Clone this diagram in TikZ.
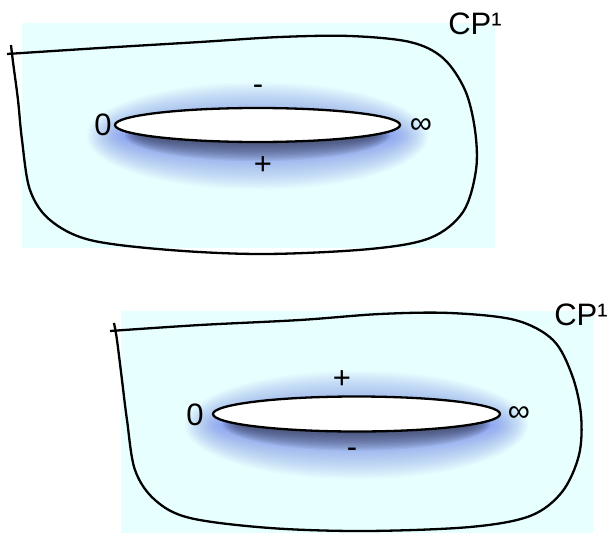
\documentclass[tikz,border=0pt]{standalone}
\usepackage{fontspec}
\setmainfont{Liberation Sans}
\definecolor{bgcyan}{RGB}{232,255,255}
\definecolor{glowblue}{RGB}{90,115,240}
\definecolor{glowdark}{RGB}{55,60,80}
\newcommand\mkglow[4]{%
  \foreach \i in {0,...,31}{
    \fill[glowblue, fill opacity=0.028] (#1,#2+11) ellipse ({#3-12+1.3*\i} and {#4-8+1.45*\i});
  }
  \foreach \i in {0,...,14}{
    \fill[glowdark, fill opacity=0.07] (#1,#2+10) ellipse ({#3-28+1.3*\i} and {#4-9+1.3*\i});
  }
}
\begin{document}
\begin{tikzpicture}[x=1pt,y=-1pt,
  outline/.style={line width=2.3pt, line join=round},
  hole/.style={draw, line width=2.3pt, fill=white},
  lbl/.style={font=\fontsize{31}{33}\selectfont, inner sep=0pt}]
\useasboundingbox (0,0) rectangle (608,533);
% ---------- top panel ----------
\fill[bgcyan] (22,23) rectangle (495,248);
\mkglow{257.5}{125}{142.5}{17}
\draw[hole] (257.5,125) ellipse (142.5 and 17);
\draw[outline] plot[smooth, tension=0.55] coordinates {
  (11,45) (13,62) (18,100) (22,140) (30,190) (50,220) (90,240) (170,250) (265,254)
  (370,249) (430,238) (463,212) (476,170) (475,130) (465,90) (443,58) (410,42)
  (350,36) (280,37) (200,42) (100,48) (7,54)};
\node[lbl] (t0) at (103,125) {0};
\node[lbl] (tinf) at (421,126) {∞};
\node[lbl] (tminus) at (258,90) {-};
\node[lbl] (tplus) at (263,166) {+};
\node[lbl] (tcp) at (475,24) {CP¹};
% ---------- bottom panel ----------
\fill[bgcyan] (121,311) rectangle (593,533);
\mkglow{356.5}{414}{143.5}{17.5}
\draw[hole] (356.5,414) ellipse (143.5 and 17.5);
\draw[outline] plot[smooth, tension=0.55] coordinates {
  (114,323) (117,340) (122,380) (127,420) (135,470) (155,500) (190,518) (270,528) (365,531)
  (470,527) (530,516) (562,492) (579,455) (581,415) (572,375) (553,340) (515,320)
  (450,313) (380,314) (300,320) (200,325) (110,331)};
\node[lbl] (b0) at (195,415) {0};
\node[lbl] (binf) at (519,414) {∞};
\node[lbl] (bplus) at (342,380) {+};
\node[lbl] (bminus) at (352,453) {-};
\node[lbl] (bcp) at (581,315) {CP¹};
\end{tikzpicture}
\end{document}
